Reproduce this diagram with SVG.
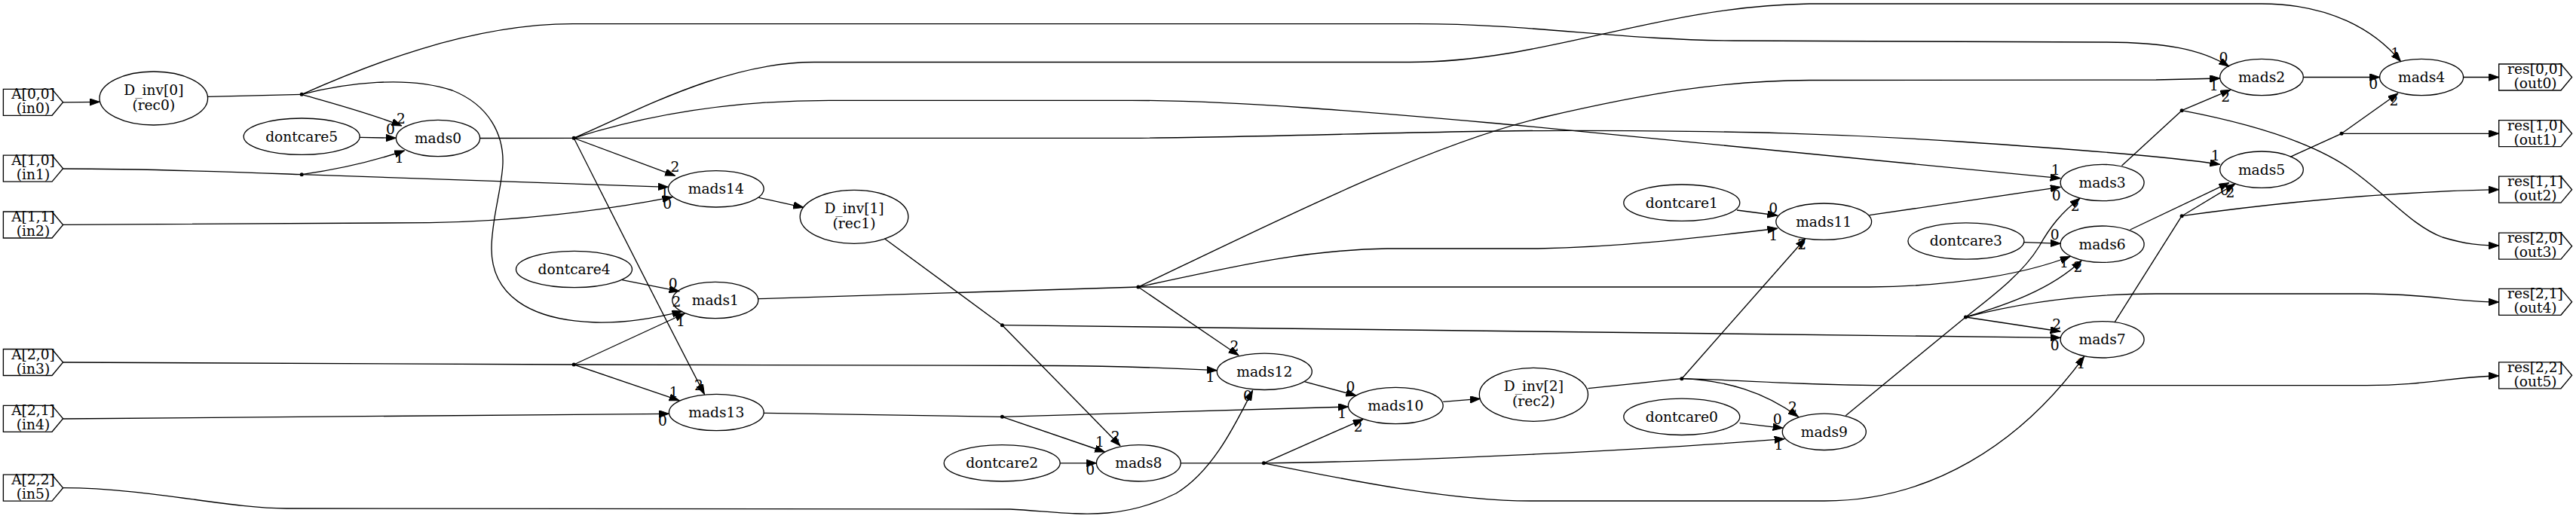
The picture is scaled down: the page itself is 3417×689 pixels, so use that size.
<svg xmlns="http://www.w3.org/2000/svg" width="3417" height="689" viewBox="0 0 3417 689">
<defs>
<style>
.n ellipse,.n polygon{fill:none;stroke:#000;stroke-width:1.33}
text{font-family:"DejaVu Serif","Liberation Serif",serif;font-size:18.67px;fill:#000;text-anchor:middle}
.e path{fill:none;stroke:#000;stroke-width:1.33}
.e path.a{marker-end:url(#ah)}
.pt{fill:#000}
</style>
<marker id="ah" markerWidth="14" markerHeight="10" refX="13.3" refY="4.67" orient="auto" markerUnits="userSpaceOnUse"><path d="M0,0 L13.3,4.67 L0,9.33 z" fill="#000" stroke="#000" stroke-width="1"/></marker>
</defs>
<rect width="3417" height="689" fill="#fff"/>

<g id="edges" class="e">
<path class="a" d="M83.6,135.8 L132,135.3"/>
<path d="M275.6,128.3 L400.2,125.3"/>
<path class="a" d="M400.2,125.3 C440,137 490,150 532.7,167"/>
<path class="a" d="M477.2,182.3 L525.3,183.3"/>
<path d="M83.6,224 C200,224 300,228 400.2,231.7"/>
<path class="a" d="M400.2,231.7 C440,226 490,216 536.4,200"/>
<path class="a" d="M400.2,231.7 L886.3,248.3"/>
<path class="a" d="M83.6,298.3 L570,295.7 C680,294 800,280 891.8,261.7"/>
<path class="a" d="M400.2,125.3 C460,110 540,100 600,120 C650,140 668,180 667,216.7 C666,250 652,290 652,330 C652,390 700,425 790,428 C830,429 870,422 904.8,413.3"/>
<path class="a" d="M400.2,125.3 C480,90 620,31.7 760,31.7 L1880,31.7 C2030,31.7 2150,53 2300,54 L2790,56 C2870,56 2920,65 2956.7,88.3"/>
<path d="M636.6,183.5 L761.2,183.3"/>
<path class="a" d="M761.2,183.3 L895.5,233.3"/>
<path class="a" d="M761.2,183.3 C800,260 860,380 934.4,523.3"/>
<path class="a" d="M761.2,183.3 C840,150 960,82.5 1080,82.5 L1870,82.5 C2050,82.5 2200,8 2400,5 L3000,5 C3090,5 3150,40 3184.5,81.7"/>
<path class="a" d="M761.2,183.3 C850,155 960,133.3 1100,133.3 L1500,133.3 C1650,133.3 1850,152 2010,166 L2733,236.7"/>
<path class="a" d="M761.2,183.3 L1500,183.3 C1700,182 1900,173.3 2080,173.3 C2300,173.3 2450,178 2600,188 C2750,198 2880,208 2944.7,218.3"/>
<path d="M83.6,481 L761.2,484"/>
<path class="a" d="M761.2,484 L908.5,416"/>
<path class="a" d="M761.2,484 L901,531.7"/>
<path class="a" d="M761.2,484 L1400,485.5 C1500,486 1560,489 1614.2,491.7"/>
<path class="a" d="M83.6,556 C400,555 700,551 887.4,549.3"/>
<path class="a" d="M825.2,371.7 L901,386.7"/>
<path d="M1005.7,396.7 L1509.9,381"/>
<path d="M1013.2,548.3 L1329.4,553.3"/>
<path class="a" d="M1006.5,262.3 L1065.7,275.4"/>
<path d="M1173.3,316.7 L1329.4,431.7"/>
<path class="a" d="M1329.4,431.7 L1485.9,591.7"/>
<path class="a" d="M1329.4,431.7 L2733,448.3"/>
<path class="a" d="M1329.4,553.3 L1465.5,600"/>
<path class="a" d="M1329.4,553.3 C1500,548 1650,543 1788.4,540"/>
<path class="a" d="M1406.3,614.8 L1454.4,614.8"/>
<path d="M1566.1,614.8 L1676.4,614.8"/>
<path class="a" d="M83.6,647.7 C200,648 300,675 380,675 L1340,676 C1420,680 1480,695 1560,655 C1610,625 1640,560 1661.6,518.3"/>
<path class="a" d="M1730.3,506.7 L1798.8,525"/>
<path class="a" d="M1676.4,614.8 L1808,556.7"/>
<path class="a" d="M1676.4,614.8 C1900,612 2200,596 2367,582.7"/>
<path class="a" d="M1676.4,614.8 C1800,640 1930,665 2030,665 L2420,665 C2560,665 2680,590 2764.6,473.3"/>
<path class="a" d="M1914.2,533.3 L1963.4,529.3"/>
<path d="M2106.5,515.7 L2230.8,502.7"/>
<path class="a" d="M2230.8,502.7 L2394.7,316.7"/>
<path class="a" d="M2230.8,502.7 C2290,505 2340,520 2385.4,553.3"/>
<path class="a" d="M2230.8,502.7 C2300,504 2400,511.7 2500,511.7 L3139,511.7 C3220,511.7 3260,499 3314.7,499"/>
<path class="a" d="M2304,279 L2357.7,286"/>
<path class="a" d="M1509.9,381 C1620,358 1720,332 1840,330 L2040,330 C2150,328 2250,316 2357.7,303.3"/>
<path class="a" d="M1509.9,381 C1700,290 1900,190 2050,155 C2180,125 2280,107 2400,106.5 L2860,106 L2944.7,104"/>
<path class="a" d="M1509.9,381 L1643,471.7"/>
<path class="a" d="M1509.9,381 L2480,381 C2600,380 2690,362 2746,340.5"/>
<path class="a" d="M2607.4,421 C2660,405 2720,385 2761,346"/>
<path class="a" d="M2685,321.7 L2733.1,323.3"/>
<path class="a" d="M2479.7,285.7 L2733.1,248.3"/>
<path d="M2448.3,551.7 L2607.4,421"/>
<path class="a" d="M2607.4,421 C2650,388 2685,360 2705,327 C2720,300 2735,282 2759,263.3"/>
<path class="a" d="M2607.4,421 L2733,440"/>
<path class="a" d="M2607.4,421 C2680,402 2760,390 2860,390 L3139,390 C3220,390 3260,401 3314.7,401"/>
<path d="M2814.5,220 L2894.1,146.7"/>
<path class="a" d="M2894.1,146.7 L2958.5,119.3"/>
<path class="a" d="M2894.1,146.7 C2990,165 3070,190 3120,226 C3170,262 3200,300 3240,315 C3270,324 3290,326 3314.7,326"/>
<path d="M2805.3,427.3 L2894.1,286.7"/>
<path class="a" d="M2894.1,286.7 L2965,244"/>
<path class="a" d="M2894.1,286.7 C3000,272 3150,255 3314.7,251.7"/>
<path class="a" d="M2825.6,305 L2956.7,242.7"/>
<path class="a" d="M3055.4,102.5 L3156.6,102.5"/>
<path d="M3038,208.3 L3106,177.3"/>
<path class="a" d="M3106,177.3 L3180.9,124"/>
<path class="a" d="M3106,177.3 L3314.7,177.3"/>
<path class="a" d="M3267.7,102.5 L3314.7,102.5"/>
<path class="a" d="M2307.7,561.7 L2365,568.3"/>
</g>

<g id="port-labels">
<text x="532" y="163.8">2</text><text x="517.9" y="178.2">0</text><text x="529.7" y="215.8">1</text>
<text x="895.5" y="228.2">2</text><text x="881.8" y="261.5">1</text><text x="885.2" y="276.5">0</text>
<text x="892.6" y="383.2">0</text><text x="897.4" y="407.2">2</text><text x="903" y="432.5">1</text>
<text x="893.7" y="526.5">1</text><text x="927" y="518.2">2</text><text x="878.9" y="564.8">0</text>
<text x="1637.5" y="465.8">2</text><text x="1605.4" y="506.5">1</text><text x="1654.9" y="531.5">0</text>
<text x="1458.9" y="593.2">1</text><text x="1479.6" y="585.8">2</text><text x="1446.3" y="629.8">0</text>
<text x="1791.4" y="519.8">0</text><text x="1780.3" y="554.8">1</text><text x="1801.7" y="572.5">2</text>
<text x="2352.1" y="282.5">0</text><text x="2352.1" y="319.2">1</text><text x="2390.2" y="330.5">2</text>
<text x="2726.8" y="231.5">1</text><text x="2727.6" y="265.8">0</text><text x="2752.7" y="279.8">2</text>
<text x="2725.7" y="318.2">0</text><text x="2738" y="354.8">1</text><text x="2756.4" y="360.5">2</text>
<text x="2728.3" y="436.5">2</text><text x="2725.7" y="464.8">0</text><text x="2760.1" y="489.2">1</text>
<text x="2378" y="547.2">2</text><text x="2357.7" y="563.2">0</text><text x="2359.5" y="597.2">1</text>
<text x="2949.4" y="83.2">0</text><text x="2936.8" y="119.8">1</text><text x="2952.3" y="134.8">2</text>
<text x="3177.3" y="76.5">1</text><text x="3148.3" y="118.2">0</text><text x="3175.5" y="139.8">2</text>
<text x="2938.6" y="213.2">1</text><text x="2951" y="258.5">0</text><text x="2958.5" y="261.5">2</text>
</g>

<g id="in0" class="n"><polygon points="4.4,118.3 69,118.3 83.6,135.8 69,153.3 4.4,153.3"/><text x="44" y="131.3">A[0,0]</text><text x="44" y="150.3">(in0)</text></g>
<g id="in1" class="n"><polygon points="4.4,206.2 69,206.2 83.6,223.7 69,241.2 4.4,241.2"/><text x="44" y="219.2">A[1,0]</text><text x="44" y="238.2">(in1)</text></g>
<g id="in2" class="n"><polygon points="4.4,281 69,281 83.6,298.5 69,316 4.4,316"/><text x="44" y="294">A[1,1]</text><text x="44" y="313">(in2)</text></g>
<g id="in3" class="n"><polygon points="4.4,463.5 69,463.5 83.6,481 69,498.5 4.4,498.5"/><text x="44" y="476.5">A[2,0]</text><text x="44" y="495.5">(in3)</text></g>
<g id="in4" class="n"><polygon points="4.4,538.3 69,538.3 83.6,555.8 69,573.3 4.4,573.3"/><text x="44" y="551.3">A[2,1]</text><text x="44" y="570.3">(in4)</text></g>
<g id="in5" class="n"><polygon points="4.4,630.2 69,630.2 83.6,647.7 69,665.2 4.4,665.2"/><text x="44" y="643.2">A[2,2]</text><text x="44" y="662.2">(in5)</text></g>

<g id="rec0" class="n"><ellipse cx="203.8" cy="130.5" rx="71.8" ry="35.5"/><text x="203.8" y="126">D_inv[0]</text><text x="203.8" y="145.5">(rec0)</text></g>
<g id="rec1" class="n"><ellipse cx="1133" cy="287.8" rx="71.8" ry="35.5"/><text x="1133" y="283.3">D_inv[1]</text><text x="1133" y="302.8">(rec1)</text></g>
<g id="rec2" class="n"><ellipse cx="2034.4" cy="523.8" rx="72.1" ry="35.5"/><text x="2034.4" y="519.3">D_inv[2]</text><text x="2034.4" y="538.8">(rec2)</text></g>

<g id="dontcare5" class="n"><ellipse cx="400.2" cy="181.2" rx="77" ry="24.2"/><text x="400.2" y="187.5">dontcare5</text></g>
<g id="dontcare4" class="n"><ellipse cx="761.5" cy="357.5" rx="77" ry="24.2"/><text x="761.5" y="363.8">dontcare4</text></g>
<g id="dontcare2" class="n"><ellipse cx="1329.2" cy="614.8" rx="77" ry="24.2"/><text x="1329.2" y="621.1">dontcare2</text></g>
<g id="dontcare1" class="n"><ellipse cx="2230.8" cy="269.2" rx="77" ry="24.2"/><text x="2230.8" y="275.5">dontcare1</text></g>
<g id="dontcare0" class="n"><ellipse cx="2230.8" cy="553.3" rx="77" ry="24.2"/><text x="2230.8" y="559.6">dontcare0</text></g>
<g id="dontcare3" class="n"><ellipse cx="2607.9" cy="320" rx="77" ry="24.2"/><text x="2607.9" y="326.3">dontcare3</text></g>

<g id="mads0" class="n"><ellipse cx="581" cy="183.5" rx="55.6" ry="24.2"/><text x="581" y="189.8">mads0</text></g>
<g id="mads14" class="n"><ellipse cx="949.8" cy="250.8" rx="63.4" ry="24.2"/><text x="949.8" y="257.1">mads14</text></g>
<g id="mads1" class="n"><ellipse cx="948.8" cy="398.5" rx="57" ry="24.2"/><text x="948.8" y="404.8">mads1</text></g>
<g id="mads13" class="n"><ellipse cx="950.3" cy="547.5" rx="62.9" ry="24.2"/><text x="950.3" y="553.8">mads13</text></g>
<g id="mads12" class="n"><ellipse cx="1677.3" cy="493.3" rx="63" ry="24.2"/><text x="1677.3" y="499.6">mads12</text></g>
<g id="mads8" class="n"><ellipse cx="1510.3" cy="614.8" rx="55.9" ry="24.2"/><text x="1510.3" y="621.1">mads8</text></g>
<g id="mads10" class="n"><ellipse cx="1851.3" cy="538.5" rx="62.9" ry="24.2"/><text x="1851.3" y="544.8">mads10</text></g>
<g id="mads11" class="n"><ellipse cx="2419.2" cy="294.2" rx="63.4" ry="24.2"/><text x="2419.2" y="300.5">mads11</text></g>
<g id="mads9" class="n"><ellipse cx="2419.8" cy="573.3" rx="55.5" ry="24.2"/><text x="2419.8" y="579.6">mads9</text></g>
<g id="mads3" class="n"><ellipse cx="2788.6" cy="242.5" rx="55.5" ry="24.2"/><text x="2788.6" y="248.8">mads3</text></g>
<g id="mads6" class="n"><ellipse cx="2788.6" cy="324.2" rx="55.5" ry="24.2"/><text x="2788.6" y="330.5">mads6</text></g>
<g id="mads7" class="n"><ellipse cx="2788.6" cy="450.8" rx="55.5" ry="24.2"/><text x="2788.6" y="457.1">mads7</text></g>
<g id="mads2" class="n"><ellipse cx="3000" cy="102.5" rx="55.3" ry="24.2"/><text x="3000" y="108.8">mads2</text></g>
<g id="mads5" class="n"><ellipse cx="3000" cy="225.2" rx="55.3" ry="24.2"/><text x="3000" y="231.5">mads5</text></g>
<g id="mads4" class="n"><ellipse cx="3212.1" cy="102.5" rx="55.5" ry="24.2"/><text x="3212.1" y="108.8">mads4</text></g>

<g id="out0" class="n"><polygon points="3314.7,85 3397,85 3411.6,102.5 3397,120 3314.7,120"/><text x="3363" y="98">res[0,0]</text><text x="3363" y="117">(out0)</text></g>
<g id="out1" class="n"><polygon points="3314.7,159.7 3397,159.7 3411.6,177.2 3397,194.7 3314.7,194.7"/><text x="3363" y="172.7">res[1,0]</text><text x="3363" y="191.7">(out1)</text></g>
<g id="out2" class="n"><polygon points="3314.7,234.2 3397,234.2 3411.6,251.7 3397,269.2 3314.7,269.2"/><text x="3363" y="247.2">res[1,1]</text><text x="3363" y="266.2">(out2)</text></g>
<g id="out3" class="n"><polygon points="3314.7,309.2 3397,309.2 3411.6,326.7 3397,344.2 3314.7,344.2"/><text x="3363" y="322.2">res[2,0]</text><text x="3363" y="341.2">(out3)</text></g>
<g id="out4" class="n"><polygon points="3314.7,383.3 3397,383.3 3411.6,400.8 3397,418.3 3314.7,418.3"/><text x="3363" y="396.3">res[2,1]</text><text x="3363" y="415.3">(out4)</text></g>
<g id="out5" class="n"><polygon points="3314.7,480.8 3397,480.8 3411.6,498.3 3397,515.8 3314.7,515.8"/><text x="3363" y="493.8">res[2,2]</text><text x="3363" y="512.8">(out5)</text></g>

<g id="junctions">
<circle id="j_rec0" class="pt" cx="400.2" cy="125.3" r="2.5"/>
<circle id="j_in1" class="pt" cx="400.2" cy="231.7" r="2.5"/>
<circle id="j_mads0" class="pt" cx="761.2" cy="183.3" r="2.5"/>
<circle id="j_in3" class="pt" cx="761.2" cy="484" r="2.5"/>
<circle id="j_rec1" class="pt" cx="1329.4" cy="431.7" r="2.5"/>
<circle id="j_mads13" class="pt" cx="1329.4" cy="553.3" r="2.5"/>
<circle id="j_mads1" class="pt" cx="1509.9" cy="381" r="2.5"/>
<circle id="j_mads8" class="pt" cx="1676.4" cy="614.8" r="2.5"/>
<circle id="j_rec2" class="pt" cx="2230.8" cy="502.7" r="2.5"/>
<circle id="j_mads9" class="pt" cx="2607.4" cy="421" r="2.5"/>
<circle id="j_mads3" class="pt" cx="2894.1" cy="146.7" r="2.5"/>
<circle id="j_mads7" class="pt" cx="2894.1" cy="286.7" r="2.5"/>
<circle id="j_mads5" class="pt" cx="3106" cy="177.3" r="2.5"/>
</g>
</svg>
